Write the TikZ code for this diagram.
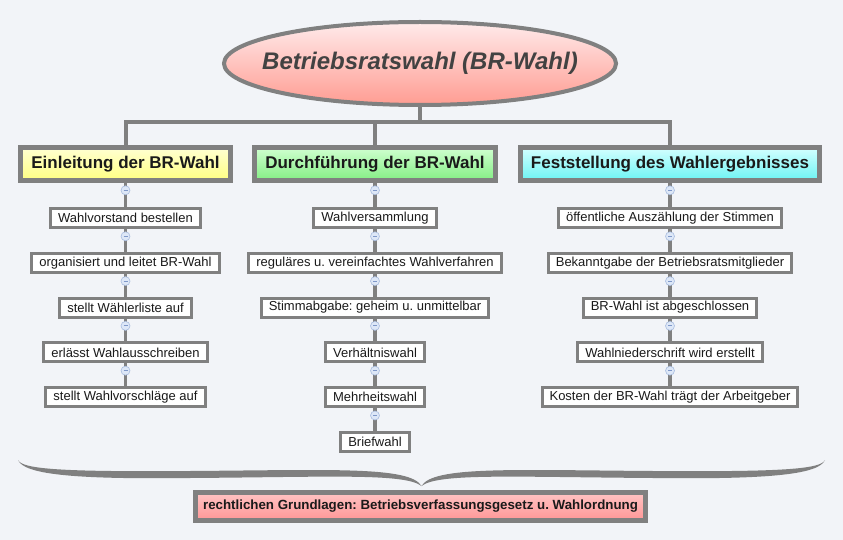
\documentclass[tikz,border=0pt]{standalone}
\usepackage{fontspec}
\setmainfont{Liberation Sans}
\usetikzlibrary{shapes.geometric,calc,positioning}
\definecolor{mmBack}{HTML}{F2F4F8}
\definecolor{mmLine}{HTML}{808080}
\definecolor{mmInk}{HTML}{1A1A1A}
\definecolor{mmTitle}{HTML}{424242}
\definecolor{mmKnobFill}{HTML}{DDE7F7}
\definecolor{mmKnobDraw}{HTML}{A9BDE0}
\definecolor{mmKnobBar}{HTML}{7F98C9}
\tikzset{
 mind/.style={line join=miter,text=mmInk},
 rootnode/.style={ellipse,draw=mmLine,line width=4pt,inner xsep=-22pt,inner ysep=0pt,minimum width=392pt,minimum height=83pt,
   top color=red!8!white,middle color={rgb,255:red,255;green,195;blue,187},bottom color={rgb,255:red,255;green,156;blue,146},
   font=\fontsize{24}{28}\selectfont\bfseries\itshape,text=mmTitle},
 headnode/.style={rectangle,draw=mmLine,line width=5pt,minimum height=33pt,inner xsep=10.5pt,inner ysep=0pt,
   font=\fontsize{17}{20}\selectfont\bfseries},
 headA/.style={headnode,top color={rgb,255:red,255;green,255;blue,210},bottom color={rgb,255:red,255;green,255;blue,130}},
 headB/.style={headnode,top color={rgb,255:red,208;green,255;blue,208},bottom color={rgb,255:red,132;green,238;blue,132}},
 headC/.style={headnode,top color={rgb,255:red,212;green,255;blue,255},bottom color={rgb,255:red,108;green,244;blue,244}},
 leaf/.style={rectangle,draw=mmLine,line width=3pt,fill=white,minimum height=19pt,inner xsep=7.5pt,inner ysep=0pt,
   font=\fontsize{13}{15}\selectfont},
 lawnode/.style={rectangle,draw=mmLine,line width=5pt,minimum height=28pt,inner xsep=8pt,inner ysep=0pt,
   top color={rgb,255:red,255;green,196;blue,196},bottom color={rgb,255:red,255;green,150;blue,150},
   font=\fontsize{13.3}{15}\selectfont\bfseries},
 trunk/.style={draw=mmLine,line width=4pt},
 link/.style={draw=mmLine,line width=3.5pt},
 knob/.style={circle,draw=mmKnobDraw,fill=mmKnobFill,line width=.6pt,inner sep=0pt,minimum size=9pt,
   path picture={\draw[mmKnobBar,line width=.9pt] ([xshift=2.5pt]path picture bounding box.west)
     -- ([xshift=-2.5pt]path picture bounding box.east);}},
 brace/.style={fill=mmLine,draw=none}
}
\newcommand{\halfBrace}{%
 \fill[brace] (18,460) .. controls (22,469) and (60,472) .. (190,471)
   .. controls (330,470) and (410,466) .. (421.5,486)
   .. controls (405,473) and (330,477) .. (190,478)
   .. controls (70,479.5) and (24,474) .. (18,460) -- cycle;}

\begin{document}
\frenchspacing
\begin{tikzpicture}[mind,x=1pt,y=-1pt]
 \useasboundingbox (0,0) rectangle (843,540);
 \fill[mmBack] (0,0) rectangle (843,540);
 % root and main branches
 \node[rootnode] (root) at (420,63.5) {Betriebsratswahl (BR-Wahl)};
 \coordinate (hub) at (420,122);
 \node[headA] (A-0) at (125.5,164) {Einleitung der BR-Wahl};
 \node[headB] (B-0) at (375,164) {Durchführung der BR-Wahl};
 \node[headC] (C-0) at (670,164) {Feststellung des Wahlergebnisses};
 \draw[trunk] (root.south) -- (hub);
 \draw[trunk] (hub) -| (A-0.north);
 \draw[trunk] (hub) -| (C-0.north);
 \draw[trunk] (hub -| B-0.north) -- (B-0.north);
 % sub topics
 \foreach \txt [count=\i] in {Wahlvorstand bestellen,organisiert und leitet BR-Wahl,stellt Wählerliste auf,
   erlässt Wahlausschreiben,stellt Wahlvorschläge auf}{\node[leaf] (A-\i) at (125.5,173.2+44.8*\i) {\txt};}
 \foreach \txt [count=\i] in {Wahlversammlung,reguläres u. vereinfachtes Wahlverfahren,Stimmabgabe: geheim u. unmittelbar,
   Verhältniswahl,Mehrheitswahl,Briefwahl}{\node[leaf] (B-\i) at (375,173.2+44.8*\i) {\txt};}
 \foreach \txt [count=\i] in {öffentliche Auszählung der Stimmen,Bekanntgabe der Betriebsratsmitglieder,
   BR-Wahl ist abgeschlossen,Wahlniederschrift wird erstellt,Kosten der BR-Wahl trägt der Arbeitgeber}
   {\node[leaf] (C-\i) at (670,173.2+44.8*\i) {\txt};}
 \foreach \colid/\n in {A/5,B/6,C/5}{
  \foreach \i in {1,...,\n}{
   \pgfmathtruncatemacro{\j}{\i-1}
   \draw[link] (\colid-\j) -- (\colid-\i);
   \node[knob,below=2.5pt of \colid-\j] (knob-\colid-\j) {};
  }}
 % legal basis
 \halfBrace
 \begin{scope}[shift={(843,0)},xscale=-1]\halfBrace\end{scope}
 \node[lawnode] (law) at (420.5,506.5) {rechtlichen Grundlagen: Betriebsverfassungsgesetz u. Wahlordnung};
\end{tikzpicture}
\end{document}
